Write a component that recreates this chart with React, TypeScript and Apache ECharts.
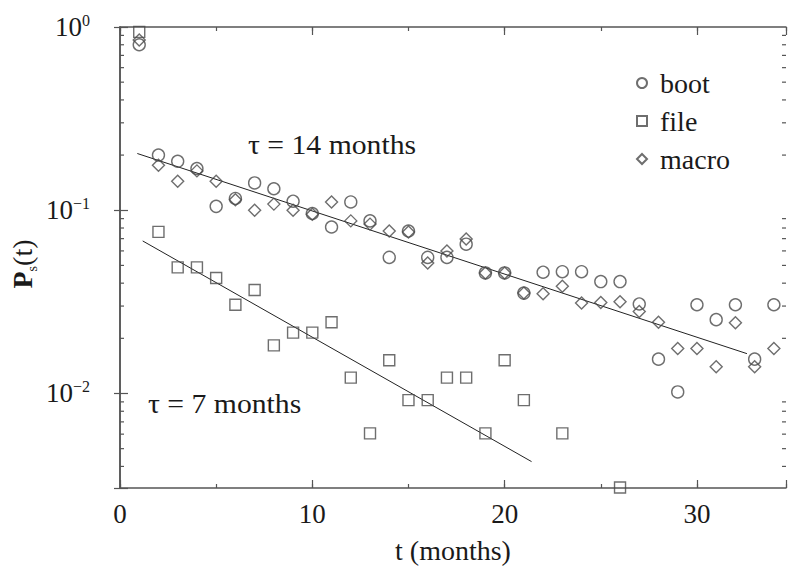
import React, { useEffect, useRef } from "react";
import * as echarts from "echarts";

// ---- data ----
const months = [1, 2, 3, 4, 5, 6, 7, 8, 9, 10, 11, 12, 13, 14, 15, 16, 17, 18, 19, 20, 21, 22, 23, 24, 25, 26, 27, 28, 29, 30, 31, 32, 33, 34];
const bootValues = [0.80, 0.200, 0.185, 0.169, 0.105, 0.116, 0.141, 0.131, 0.112, 0.096, 0.081, 0.111, 0.0875, 0.0553, 0.077, 0.0553, 0.0553, 0.0653, 0.0455, 0.0455, 0.0353, 0.0459, 0.0462, 0.0462, 0.0408, 0.0408, 0.0308, 0.0154, 0.0102, 0.0305, 0.0253, 0.0305, 0.0154, 0.0305];
const macroValues = [0.85, 0.176, 0.144, 0.164, 0.144, 0.114, 0.100, 0.108, 0.100, 0.095, 0.111, 0.0875, 0.084, 0.077, 0.076, 0.0515, 0.060, 0.0696, 0.0455, 0.0455, 0.0353, 0.035, 0.0385, 0.0312, 0.0314, 0.0317, 0.028, 0.0245, 0.0176, 0.0176, 0.014, 0.0243, 0.014, 0.0176];
const fileMonths = [1, 2, 3, 4, 5, 6, 7, 8, 9, 10, 11, 12, 13, 14, 15, 16, 17, 18, 19, 20, 21, 23, 26];
const fileValues = [0.94, 0.0762, 0.0488, 0.0488, 0.0427, 0.0305, 0.0367, 0.0183, 0.0215, 0.0215, 0.0245, 0.0122, 0.00606, 0.0152, 0.0092, 0.0092, 0.0122, 0.0122, 0.00606, 0.0152, 0.0092, 0.00606, 0.00307];
const bootFit = [[0.9, 0.204], [32.6, 0.0165]];
const fileFit = [[1.18, 0.068], [21.4, 0.00425]];
const xTickLabels = [0, 10, 20, 30];
const minorMantissas = [2, 3, 4, 5, 6, 7, 8, 9];
const minorExponents = [-3, -2, -1];
const annotations = ["τ = 14 months", "τ = 7 months"];

const X_MIN = 0;
const X_MAX = 34.63;
const Y_MIN = 0.00305;
const Y_MAX = 1;

const FONT = "Liberation Serif";
const AXIS_COLOR = "#555";
const MARK_COLOR = "#4a4a4a";
const TEXT_COLOR = "#1a1a1a";

export default function App() {
  const ref = useRef<HTMLDivElement>(null);

  useEffect(() => {
    if (!ref.current) return;
    const chart = echarts.init(ref.current, undefined, { renderer: "svg" });

    const minorTicks: number[][] = [];
    minorExponents.forEach((e) =>
      minorMantissas.forEach((m) => {
        const v = m * Math.pow(10, e);
        if (v > Y_MIN && v < Y_MAX) minorTicks.push([X_MIN, v]);
      })
    );

    const markerStyle = {
      color: "rgba(255,255,255,0)",
      borderColor: MARK_COLOR,
      borderWidth: 1.4,
    };

    const baseX = {
      type: "value",
      min: X_MIN,
      max: X_MAX,
      splitLine: { show: false },
      axisLabel: { show: false },
    };
    const baseY = {
      type: "log",
      logBase: 10,
      min: Y_MIN,
      max: Y_MAX,
      splitLine: { show: false },
      axisLabel: { show: false },
    };

    const option: any = {
      animation: false,
      backgroundColor: "#fff",
      textStyle: { fontFamily: FONT },
      grid: { left: 120, top: 27, right: 4, bottom: 79, containLabel: false },
      xAxis: [
        {
          ...baseX,
          position: "bottom",
          interval: 10,
          axisLine: { show: true, lineStyle: { color: AXIS_COLOR, width: 1.5 } },
          axisTick: { show: true, inside: true, length: 8, lineStyle: { color: AXIS_COLOR, width: 1.2 } },
          axisLabel: {
            show: true,
            margin: 12,
            color: TEXT_COLOR,
            fontFamily: FONT,
            fontSize: 27,
            formatter: (v: number) => (xTickLabels.indexOf(v) >= 0 ? String(v) : ""),
          },
          name: "t (months)",
          nameLocation: "middle",
          nameGap: 48,
          nameTextStyle: { color: TEXT_COLOR, fontFamily: FONT, fontSize: 28 },
        },
        {
          ...baseX,
          position: "bottom",
          interval: 5,
          axisLine: { show: false },
          axisTick: { show: true, inside: true, length: 4, lineStyle: { color: AXIS_COLOR, width: 1.2 } },
        },
        {
          ...baseX,
          position: "top",
          interval: 10,
          axisLine: { show: true, lineStyle: { color: AXIS_COLOR, width: 1.5 } },
          axisTick: { show: true, inside: true, length: 8, lineStyle: { color: AXIS_COLOR, width: 1.2 } },
        },
        {
          ...baseX,
          position: "top",
          interval: 5,
          axisLine: { show: false },
          axisTick: { show: true, inside: true, length: 4, lineStyle: { color: AXIS_COLOR, width: 1.2 } },
        },
      ],
      yAxis: [
        {
          ...baseY,
          position: "left",
          axisLine: { show: true, lineStyle: { color: AXIS_COLOR, width: 1.5 } },
          axisTick: { show: true, inside: true, length: 8, lineStyle: { color: AXIS_COLOR, width: 1.2 } },
          axisLabel: {
            show: true,
            margin: 30,
            formatter: (v: number) => {
              const e = Math.log10(v);
              const r = Math.round(e);
              if (Math.abs(e - r) > 1e-6) return "";
              const sup = r === 0 ? "0" : "−" + String(-r);
              return "{b|10}{s|" + sup + "}";
            },
            rich: {
              b: { fontFamily: FONT, fontSize: 27, lineHeight: 30, color: TEXT_COLOR },
              s: { fontFamily: FONT, fontSize: 16, lineHeight: 16, color: TEXT_COLOR, verticalAlign: "top" },
            },
          },
        },
        {
          ...baseY,
          position: "right",
          axisLine: { show: true, lineStyle: { color: AXIS_COLOR, width: 1.5 } },
          axisTick: { show: true, inside: true, length: 6, lineStyle: { color: AXIS_COLOR, width: 1.2 } },
        },
      ],
      legend: {
        orient: "vertical",
        left: 636,
        top: 69,
        padding: 0,
        itemGap: 10,
        itemWidth: 10,
        itemHeight: 10,
        data: ["boot", "file", "macro"],
        textStyle: { fontFamily: FONT, fontSize: 28, color: TEXT_COLOR, padding: [0, 0, 0, 8] },
      },
      graphic: [
        {
          type: "text",
          x: 248,
          y: 145,
          scaleX: 1.1,
          style: { text: annotations[0], fontFamily: FONT, fontSize: 27, fill: TEXT_COLOR, verticalAlign: "middle" },
        },
        {
          type: "text",
          x: 148,
          y: 404,
          scaleX: 1.1,
          style: { text: annotations[1], fontFamily: FONT, fontSize: 27, fill: TEXT_COLOR, verticalAlign: "middle" },
        },
        {
          type: "text",
          x: 22,
          y: 264,
          rotation: Math.PI / 2,
          style: {
            text: "{p|P}{s|s}{t|(t)}",
            align: "center",
            verticalAlign: "middle",
            rich: {
              p: { fontFamily: FONT, fontSize: 28, fontWeight: "bold", lineHeight: 34, fill: TEXT_COLOR },
              s: { fontFamily: FONT, fontSize: 14, lineHeight: 14, verticalAlign: "bottom", fill: TEXT_COLOR },
              t: { fontFamily: FONT, fontSize: 28, lineHeight: 34, fill: TEXT_COLOR },
            },
          },
        },
      ],
      series: [
        {
          name: "boot",
          type: "scatter",
          symbol: "circle",
          symbolSize: 12,
          itemStyle: markerStyle,
          data: months.map((m, i) => [m, bootValues[i]]),
          z: 3,
        },
        {
          name: "file",
          type: "scatter",
          symbol: "rect",
          symbolSize: 11,
          itemStyle: markerStyle,
          data: fileMonths.map((m, i) => [m, fileValues[i]]),
          z: 3,
        },
        {
          name: "macro",
          type: "scatter",
          symbol: "diamond",
          symbolSize: 12,
          itemStyle: markerStyle,
          data: months.map((m, i) => [m, macroValues[i]]),
          z: 3,
        },
        {
          name: "bootFit",
          type: "line",
          showSymbol: false,
          symbol: "none",
          lineStyle: { color: "#222", width: 1 },
          data: bootFit,
          z: 2,
        },
        {
          name: "fileFit",
          type: "line",
          showSymbol: false,
          symbol: "none",
          lineStyle: { color: "#222", width: 1 },
          data: fileFit,
          z: 2,
        },
        {
          name: "minorTicks",
          type: "custom",
          silent: true,
          clip: false,
          data: minorTicks,
          renderItem: (params: any, api: any) => {
            const v = api.value(1);
            const pl = api.coord([X_MIN, v]);
            const pr = api.coord([X_MAX, v]);
            const st = { stroke: AXIS_COLOR, lineWidth: 1.2 };
            return {
              type: "group",
              children: [
                { type: "line", shape: { x1: pl[0], y1: pl[1], x2: pl[0] + 4, y2: pl[1] }, style: st },
                { type: "line", shape: { x1: pr[0] - 4, y1: pr[1], x2: pr[0], y2: pr[1] }, style: st },
              ],
            };
          },
          z: 1,
        },
      ],
    };

    chart.setOption(option);
    return () => chart.dispose();
  }, []);

  return (
    <div
      ref={ref}
      style={{ position: "fixed", left: 0, top: 0, width: 790, height: 569, background: "#fff" }}
    />
  );
}
